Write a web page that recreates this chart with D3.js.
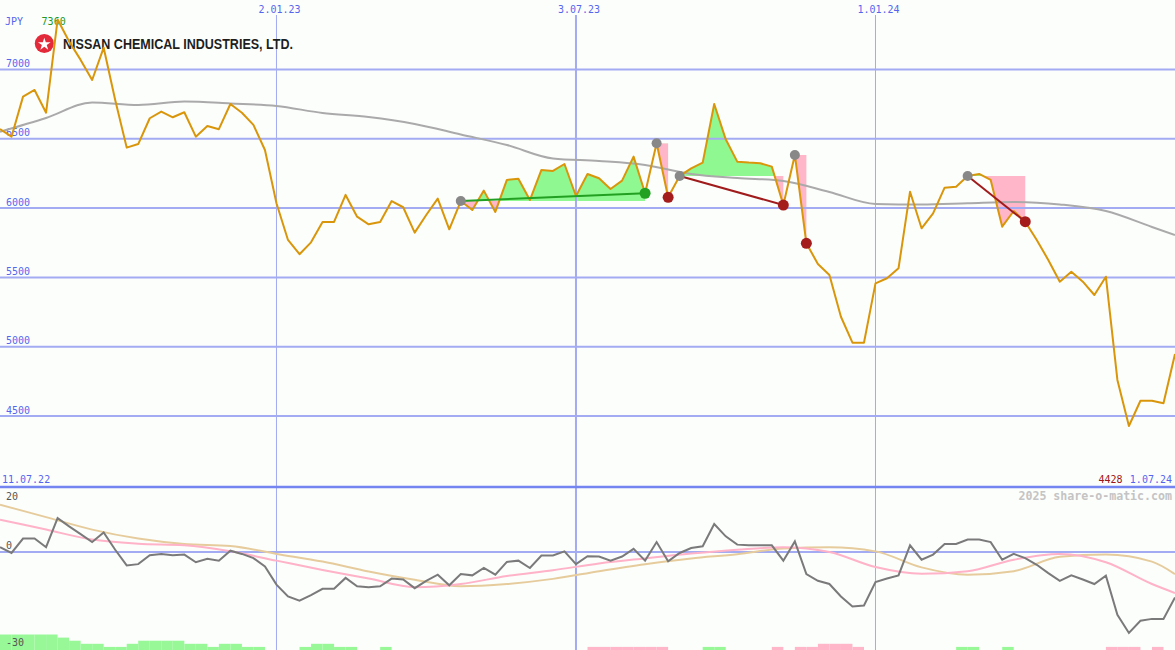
<!DOCTYPE html>
<html><head><meta charset="utf-8">
<script src="https://cdn.jsdelivr.net/npm/d3@7/dist/d3.min.js"></script>
<style>body{margin:0;background:#fcfefc}svg{display:block}</style>
</head><body><svg id="c" width="1175" height="650"></svg>
<script>
// ---------- data (weekly) ----------
const firstWeek = "2022-07-18";
const startLabel = "11.07.22";
const currency = "JPY";
const company = "NISSAN CHEMICAL INDUSTRIES, LTD.";
const credit = "2025 share-o-matic.com";
const price = [6570,6515,6804,6852,6688,7360,7201,7069,6924,7157,
  6780,6436,6462,6648,6696,6655,6691,6515,6592,6569,
  6751,6688,6600,6419,6035,5770,5667,5753,5900,5900,
  6095,5938,5883,5900,6051,6006,5823,5950,6068,5847,
  6051,5986,6126,5972,6203,6212,6058,6275,6268,6318,
  6087,6246,6215,6138,6198,6371,6107,6468,6078,6232,
  6287,6328,6751,6496,6335,6328,6323,6299,6022,6383,
  5746,5597,5517,5216,5029,5029,5457,5494,5566,6118,
  5854,5962,6147,6154,6232,6246,6203,5866,5979,5902,
  5770,5626,5469,5541,5469,5373,5505,4760,4428,4610,
  4610,4592,4947];
const smoothWeeks = [0,4,8,12,16,20,24,28,32,36,40,44,48,52,56,60,64,68,72,76,80,84,88,92,96,100,102];
const priceMA = [6551,6650,6762,6744,6768,6755,6737,6686,6657,6607,6531,6455,6358,6340,6311,6246,6217,6196,6116,6030,6026,6035,6044,6026,5979,5864,5806];
const osc = [1.5,-0.3,4.2,4.2,1.5,10.6,8.0,5.6,3.1,6.1,
  0.7,-4.2,-3.8,-1.0,-0.6,-1.0,-0.8,-3.2,-2.1,-2.7,
  0.4,-0.6,-1.9,-4.5,-10.2,-13.9,-15.2,-13.5,-11.5,-11.5,
  -8.1,-10.7,-11.0,-10.7,-8.3,-8.6,-11.3,-9.0,-7.1,-10.4,
  -6.9,-7.3,-5.0,-7.1,-3.1,-2.7,-5.0,-1.1,-1.1,0.2,
  -3.8,-1.3,-1.4,-2.7,-1.4,1.0,-2.7,3.1,-2.9,-0.3,
  1.25,1.8,8.75,4.9,2.3,2.1,2.1,2.1,-2.7,3.3,
  -6.9,-9.0,-10.0,-13.9,-17.0,-16.7,-9.4,-8.3,-7.3,2.1,
  -2.4,-0.8,2.5,2.5,3.9,3.9,3.1,-2.4,-0.6,-1.9,
  -4.0,-6.6,-9.0,-7.3,-8.6,-10.0,-7.4,-19.6,-25.3,-21.5,
  -20.9,-20.9,-14.2];
const oscSlow = [14.8,10.9,7.0,4.2,2.5,1.9,-0.6,-3.0,-6.1,-8.7,-10.7,-10.0,-8.4,-6.0,-3.8,-2.0,-0.7,1.1,1.5,0.2,-4.8,-7.1,-6.0,-1.5,-0.8,-3.0,-6.9];
const oscFast = [10.1,7.0,3.9,2.6,2.1,0.2,-2.7,-5.6,-8.3,-11.0,-10.0,-7.5,-5.7,-3.6,-2.0,-0.5,0.7,1.5,0.0,-4.7,-6.8,-6.0,-2.4,-0.6,-3.2,-10.0,-12.8];
const signalBars = [5,5,5,5,5,4,3,2,2,1,1,2,3,3,3,3,2,2,1,2,2,1,1,0,0,0,1,2,2,1,1,0,0,1,
  0,0,0,0,0,0,0,0,0,0,0,0,0,0,0,0,0,
  -1,-1,-1,-1,-1,-1,-1,0,0,0,1,1,0,0,0,0,-1,0,-1,-1,-2,-2,-2,-1,
  0,0,0,0,0,0,0,0,1,1,0,0,1,0,0,0,0,0,0,0,0,-1,-1,-1,0,-1,0,0];
// patterns: start week, end week, outcome, draw trend line
const patStart = [40,57,59,69,84];
const patEnd   = [56,58,68,70,89];
const patUp    = [true,false,false,false,false];
const patLine  = [true,false,true,false,true];
const priceTicks = [7000,6500,6000,5500,5000,4500];
const dateTicks = ["2023-01-02","2023-07-03","2024-01-01"];
const dateTickWidth = [1,2,1];
const oscTicks = [20,0,-30];

// ---------- chart ----------
const W=1175,H=650, mainBottom=487;
const svg=d3.select("#c");
svg.append("rect").attr("width",W).attr("height",H).attr("fill","#fcfefc");
const parse=d3.utcParse("%Y-%m-%d");
const t0=parse(firstWeek);
const dates=price.map((d,i)=>d3.utcDay.offset(t0,7*i));
const x=d3.scaleUtc().domain([dates[0],dates[dates.length-1]]).range([0,W]);
const xi=i=>x(d3.utcDay.offset(t0,7*i));
const y=d3.scaleLinear().domain([3988,7501]).range([mainBottom,0]);
const yo=d3.scaleLinear().domain([-30,20]).range([648,488]);
const yb=d3.scaleLinear().domain([0,5]).range([650,634.5]);
const fmt=d3.utcFormat("%-d.%m.%y");
const mono="'DejaVu Sans Mono', monospace";
const blue="#5566ee", grid="#a3abf2";

// pattern fills
const defs=svg.append("defs");
patStart.forEach((s,k)=>{
  const e=patEnd[k], base=y(price[s]);
  const idx=d3.range(s,e+1);
  const area=d3.area().x(i=>xi(i)).y0(base).y1(i=>y(price[i]));
  defs.append("clipPath").attr("id","up"+k).append("rect")
    .attr("x",0).attr("y",0).attr("width",W).attr("height",base);
  defs.append("clipPath").attr("id","dn"+k).append("rect")
    .attr("x",0).attr("y",base).attr("width",W).attr("height",mainBottom-base);
  svg.append("path").attr("d",area(idx)).attr("fill","#90f890").attr("clip-path",`url(#up${k})`);
  svg.append("path").attr("d",area(idx)).attr("fill","#ffb6c8").attr("clip-path",`url(#dn${k})`);
});

// signal bars
svg.append("g").selectAll("rect").data(signalBars.map((v,i)=>({v,i})).filter(d=>d.v!==0)).join("rect")
  .attr("x",d=>xi(d.i)).attr("width",d=>xi(d.i+1)-xi(d.i))
  .attr("y",d=>yb(Math.abs(d.v))).attr("height",d=>650-yb(Math.abs(d.v)))
  .attr("fill",d=>d.v>0?"#98f898":"#ffb6c8");

// grid
const gh=svg.append("g");
priceTicks.forEach(v=>gh.append("line").attr("x1",0).attr("x2",W).attr("y1",y(v)).attr("y2",y(v))
  .attr("stroke",grid).attr("stroke-width",2));
dateTicks.forEach((d,k)=>gh.append("line").attr("x1",x(parse(d))).attr("x2",x(parse(d)))
  .attr("y1",15).attr("y2",H).attr("stroke",grid).attr("stroke-width",dateTickWidth[k]));
gh.append("line").attr("x1",0).attr("x2",W).attr("y1",yo(0)).attr("y2",yo(0)).attr("stroke",grid).attr("stroke-width",2);
gh.append("line").attr("x1",0).attr("x2",W).attr("y1",mainBottom).attr("y2",mainBottom).attr("stroke","#7484f0").attr("stroke-width",2.5);

// labels
const tl=svg.append("g").attr("font-family",mono).attr("font-size",10);
priceTicks.forEach(v=>tl.append("text").attr("x",6).attr("y",y(v)-2.5).attr("fill",blue).text(v));
dateTicks.forEach(d=>tl.append("text").attr("x",x(parse(d))+3).attr("y",13).attr("text-anchor","middle").attr("fill",blue).text(fmt(parse(d))));
tl.append("text").attr("x",5).attr("y",25).attr("fill",blue).text(currency);
const maxI=d3.maxIndex(price), minI=d3.minIndex(price);
tl.append("text").attr("x",xi(maxI)-16).attr("y",25).attr("fill","#229922").text(price[maxI]);
tl.append("text").attr("x",2).attr("y",483).attr("fill",blue).text(startLabel);
tl.append("text").attr("x",1172).attr("y",483).attr("text-anchor","end").attr("fill",blue).text(fmt(dates[dates.length-1]));
tl.append("text").attr("x",1122.5).attr("y",483).attr("text-anchor","end").attr("fill","#a01414").text(price[minI]);
tl.append("text").attr("x",1172).attr("y",500).attr("text-anchor","end").attr("fill","#c4c4c4")
  .attr("font-weight","bold").attr("font-size",11.6).text(credit);
const oscOff=[11.5,-3,-2.3];
oscTicks.forEach((v,k)=>tl.append("text").attr("x",6).attr("y",yo(v)+oscOff[k]).attr("fill","#555").text(v));

// logo + company name
svg.append("circle").attr("cx",44.3).attr("cy",43.5).attr("r",9.5).attr("fill","#e22a3a");
svg.append("path").attr("transform","translate(44.3,44.3)").attr("d",d3.symbol(d3.symbolStar,50)()).attr("fill","#fff");
svg.append("text").attr("x",63).attr("y",49.3).attr("font-family","'Liberation Sans', Arial, sans-serif")
  .attr("font-weight","bold").attr("font-size",14).attr("fill","#1e1e1e")
  .attr("textLength",230).attr("lengthAdjust","spacingAndGlyphs").text(company);

// moving average (price)
const smoothLine=(sc,vals)=>d3.line().x((w)=>xi(w)).y((w,k)=>sc(vals[k])).curve(d3.curveMonotoneX)(smoothWeeks);
svg.append("path").attr("d",smoothLine(y,priceMA)).attr("fill","none").attr("stroke","#aaaaaa").attr("stroke-width",2);

// lower panel lines
svg.append("path").attr("d",smoothLine(yo,oscSlow)).attr("fill","none").attr("stroke","#e6cc9c").attr("stroke-width",2);
svg.append("path").attr("d",smoothLine(yo,oscFast)).attr("fill","none").attr("stroke","#ffb2c8").attr("stroke-width",2);
svg.append("path").attr("d",d3.line().x((d,i)=>xi(i)).y(d=>yo(d))(osc)).attr("fill","none").attr("stroke","#7a7a7a").attr("stroke-width",2);

// price line
svg.append("path").attr("d",d3.line().x((d,i)=>x(dates[i])).y(d=>y(d))(price))
  .attr("fill","none").attr("stroke","#d9960b").attr("stroke-width",2).attr("stroke-linejoin","round");

// pattern lines and dots
patStart.forEach((s,k)=>{
  const e=patEnd[k];
  if(patLine[k]) svg.append("line").attr("x1",xi(s)).attr("y1",y(price[s])).attr("x2",xi(e)).attr("y2",y(price[e]))
    .attr("stroke",patUp[k]?"#22a022":"#a01c1c").attr("stroke-width",2);
});
patStart.forEach((s,k)=>{
  const e=patEnd[k];
  svg.append("circle").attr("cx",xi(s)).attr("cy",y(price[s])).attr("r",5).attr("fill","#888");
  svg.append("circle").attr("cx",xi(e)).attr("cy",y(price[e])).attr("r",5.5).attr("fill",patUp[k]?"#22a022":"#a41c1c");
});
</script></body></html>
